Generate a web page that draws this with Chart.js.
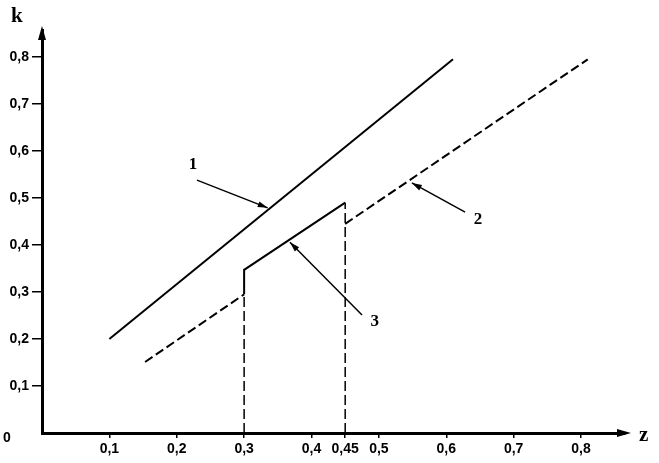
<!DOCTYPE html>
<html>
<head>
<meta charset="utf-8">
<script src="https://cdn.jsdelivr.net/npm/chart.js@4.4.1/dist/chart.umd.min.js"></script>
<style>
  body { margin: 0; background: #fff; }
  canvas { display: block; }
</style>
</head>
<body>
<canvas id="chart" width="659" height="463"></canvas>
<script>
// tick values (z and k axes)
const xTicks = [0.1, 0.2, 0.3, 0.4, 0.45, 0.5, 0.6, 0.7, 0.8];
const yTicks = [0.1, 0.2, 0.3, 0.4, 0.5, 0.6, 0.7, 0.8];

// curve 1 (solid)
const line1Z = [0.1, 0.61];
const line1K = [0.2, 0.795];
// curve 2 (dashed, broken between 0.3 and 0.45)
const line2aZ = [0.153, 0.3];
const line2aK = [0.151, 0.295];
const line2bZ = [0.45, 0.81];
const line2bK = [0.445, 0.795];
// curve 3 (solid, with a jump at z = 0.3)
const line3Z = [0.3, 0.3, 0.45];
const line3K = [0.295, 0.347, 0.49];
// dashed drop lines
const drop1Z = [0.3, 0.3];
const drop1K = [0, 0.295];
const drop2Z = [0.45, 0.45];
const drop2K = [0, 0.49];

// curve labels: text, label position, arrow start, arrow tip (data units)
const labelText = ['1', '2', '3'];
const labelPos = [[0.224, 0.57], [0.647, 0.453], [0.494, 0.236]];
const arrowFrom = [[0.230, 0.538], [0.628, 0.470], [0.475, 0.251]];
const arrowTo = [[0.335, 0.479], [0.549, 0.532], [0.368, 0.406]];

const pts = (zs, ks) => zs.map((z, i) => ({ x: z, y: ks[i] }));
const fmt = v => String(v).replace('.', ',');

function ds(data, dash, width) {
  return {
    data: data,
    borderColor: '#000',
    borderWidth: width || 2,
    borderDash: dash || [],
    pointRadius: 0,
    fill: false,
    tension: 0
  };
}

function arrowHead(ctx, x1, y1, x2, y2, len, wid) {
  const a = Math.atan2(y2 - y1, x2 - x1);
  ctx.beginPath();
  ctx.moveTo(x2, y2);
  ctx.lineTo(x2 - len * Math.cos(a) + wid * Math.sin(a), y2 - len * Math.sin(a) - wid * Math.cos(a));
  ctx.lineTo(x2 - len * Math.cos(a) - wid * Math.sin(a), y2 - len * Math.sin(a) + wid * Math.cos(a));
  ctx.closePath();
  ctx.fill();
}

const extras = {
  id: 'extras',
  afterDraw(chart) {
    const ctx = chart.ctx;
    const xs = chart.scales.x, ys = chart.scales.y;
    const area = chart.chartArea;
    ctx.save();
    ctx.fillStyle = '#000';
    ctx.strokeStyle = '#000';

    // axis arrowheads
    arrowHead(ctx, area.left, area.bottom, area.left, area.top - 4, 14, 4);
    arrowHead(ctx, area.left, area.bottom, area.right + 6, area.bottom, 14, 4);

    // axis names and origin
    ctx.font = 'bold 21px "Liberation Serif"';
    ctx.textBaseline = 'middle';
    ctx.textAlign = 'left';
    ctx.fillText('k', 11, 17);
    ctx.fillText('z', 639, 436);
    ctx.font = 'bold 14px "Liberation Sans"';
    ctx.fillText('0', 3, 438);

    // curve labels with arrows
    ctx.lineWidth = 1.5;
    ctx.font = 'bold 17px "Liberation Serif"';
    ctx.textAlign = 'center';
    labelText.forEach((t, i) => {
      ctx.fillText(t, xs.getPixelForValue(labelPos[i][0]), ys.getPixelForValue(labelPos[i][1]));
      const x1 = xs.getPixelForValue(arrowFrom[i][0]), y1 = ys.getPixelForValue(arrowFrom[i][1]);
      const x2 = xs.getPixelForValue(arrowTo[i][0]), y2 = ys.getPixelForValue(arrowTo[i][1]);
      ctx.beginPath();
      ctx.moveTo(x1, y1);
      ctx.lineTo(x2, y2);
      ctx.stroke();
      arrowHead(ctx, x1, y1, x2, y2, 10, 3);
    });
    ctx.restore();
  }
};

new Chart(document.getElementById('chart'), {
  type: 'line',
  data: {
    datasets: [
      ds(pts(line1Z, line1K), [], 2),
      ds(pts(line2aZ, line2aK), [9, 4], 2),
      ds(pts(line2bZ, line2bK), [9, 4], 2),
      ds(pts(line3Z, line3K), [], 2),
      ds(pts(drop1Z, drop1K), [10, 4], 1.5),
      ds(pts(drop2Z, drop2K), [10, 4], 1.5)
    ]
  },
  options: {
    responsive: false,
    animation: false,
    layout: { padding: { top: 30, right: 34, left: 0, bottom: 0 } },
    plugins: { legend: { display: false }, tooltip: { enabled: false } },
    scales: {
      x: {
        type: 'linear',
        min: 0,
        max: 0.8653,
        afterFit: s => { s.height = 30; },
        afterBuildTicks: s => { s.ticks = xTicks.map(v => ({ value: v })); },
        border: { color: '#000', width: 3 },
        grid: { drawOnChartArea: false, drawTicks: true, tickLength: 5, color: '#000', lineWidth: 1.5 },
        ticks: {
          color: '#000',
          padding: 3,
          maxRotation: 0,
          autoSkip: false,
          font: { family: 'Liberation Sans', size: 14, weight: 'bold' },
          callback: v => fmt(v)
        }
      },
      y: {
        type: 'linear',
        min: 0,
        max: 0.8574,
        afterFit: s => { s.width = 42; },
        afterBuildTicks: s => { s.ticks = yTicks.map(v => ({ value: v })); },
        border: { color: '#000', width: 3 },
        grid: { drawOnChartArea: false, drawTicks: true, tickLength: 10, color: '#000', lineWidth: 1.5 },
        ticks: {
          color: '#000',
          padding: 3,
          autoSkip: false,
          font: { family: 'Liberation Sans', size: 14, weight: 'bold' },
          callback: v => fmt(v)
        }
      }
    }
  },
  plugins: [extras]
});
</script>
</body>
</html>
